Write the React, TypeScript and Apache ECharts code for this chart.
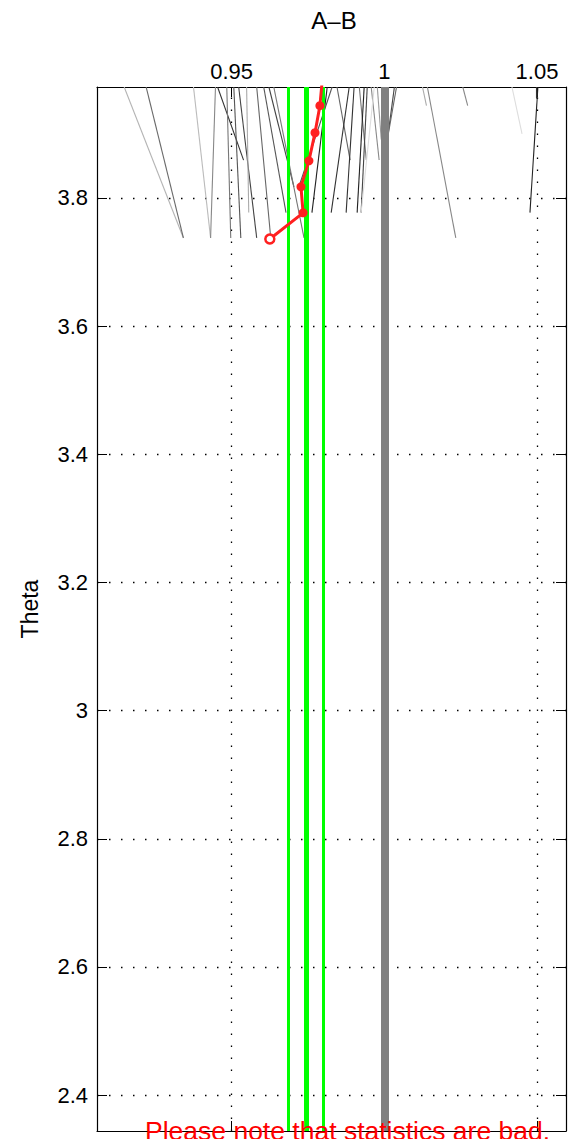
import React, { useEffect, useRef } from "react";
import * as echarts from "echarts";

const X_MIN = 0.9059;
const X_MAX = 1.0595;
const Y_MIN = 2.344;
const Y_MAX = 3.973;

const xTicks = [0.95, 1, 1.05];
const yTicks = [2.4, 2.6, 2.8, 3.0, 3.2, 3.4, 3.6, 3.8];
const yTickLabels = ["2.4", "2.6", "2.8", "3", "3.2", "3.4", "3.6", "3.8"];

// thin trace lines: [x at top, x at lower end, y at lower end, grey shade]
const traceTopX = [0.9148, 0.922, 0.9375, 0.9447, 0.9454, 0.9484, 0.9507, 0.9523, 0.9549, 0.9582, 0.9605, 0.9622, 0.9638, 0.9813, 0.9829, 0.9845, 0.9885, 0.9901, 0.9918, 0.9934, 0.9944, 0.9957, 0.9967, 0.9977, 1.0033, 1.004, 1.0125, 1.0141, 1.0257, 1.0418, 1.0503, 1.0497];
const traceEndX = [0.9342, 0.9342, 0.9431, 0.9431, 0.9539, 0.9497, 0.953, 0.9582, 0.9556, 0.9628, 0.9678, 0.9704, 0.9737, 0.9763, 0.9720, 0.9888, 0.9826, 0.9875, 0.9941, 0.9911, 0.9924, 0.9983, 0.9924, 0.9990, 1.001, 1.0013, 1.0138, 1.0234, 1.0273, 1.0451, 1.0477, 1.0497];
const traceEndY = [3.7375, 3.7375, 3.7375, 3.7375, 3.859, 3.7375, 3.7375, 3.7375, 3.777, 3.7375, 3.777, 3.817, 3.7375, 3.777, 3.817, 3.859, 3.777, 3.777, 3.859, 3.777, 3.777, 3.859, 3.777, 3.891, 3.891, 3.9, 3.944, 3.7375, 3.944, 3.9, 3.777, 3.955];
const traceShade = ["#b4b4b4", "#6a6a6a", "#bbbbbb", "#888888", "#333333", "#777777", "#555555", "#444444", "#aaaaaa", "#666666", "#555555", "#444444", "#777777", "#222222", "#555555", "#666666", "#333333", "#333333", "#777777", "#222222", "#444444", "#888888", "#dddddd", "#999999", "#444444", "#666666", "#aaaaaa", "#888888", "#888888", "#dddddd", "#222222", "#333333"];

const greenX = [0.9684, 0.9743, 0.9799];
const refX = [1.0];

const redX = [0.9625, 0.9734, 0.9727, 0.9753, 0.9773, 0.9789, 0.9797];
const redY = [3.7359, 3.7766, 3.8172, 3.8578, 3.9016, 3.9438, 3.985];

const FONT = "'Liberation Sans', Arial, Helvetica, sans-serif";

export default function App() {
  const ref = useRef<HTMLDivElement>(null);
  useEffect(() => {
    if (!ref.current) return;
    const chart = echarts.init(ref.current, null, { renderer: "svg" });

    const traceData = traceTopX.map((xt, i) => ({
      coords: [
        [xt, Y_MAX],
        [traceEndX[i], traceEndY[i]],
      ],
      lineStyle: { color: traceShade[i], width: 1.1, opacity: 1 },
    }));

    const greenWidths = [3, 5, 3];
    const greenData = greenX.map((x, i) => ({
      coords: [
        [x, Y_MIN],
        [x, Y_MAX],
      ],
      lineStyle: { color: "#00ff00", width: greenWidths[i], opacity: 1 },
    }));

    const refData = refX.map((x) => ({
      coords: [
        [x, Y_MIN],
        [x, Y_MAX],
      ],
      lineStyle: { color: "#808080", width: 8, opacity: 1 },
    }));

    const redData = redX.map((x, i) => {
      const item: any = { value: [x, redY[i]] };
      if (i === 0) item.itemStyle = { color: "#ffffff", borderColor: "#ff2020", borderWidth: 2.5 };
      return item;
    });

    const gridMarks = [
      ...xTicks.map((v) => ({ xAxis: v })),
      ...yTicks.map((v) => ({ yAxis: v })),
    ];

    const commonAxisLine = { show: true, lineStyle: { color: "#000", width: 1.2 } };

    chart.setOption({
      animation: false,
      backgroundColor: "#ffffff",
      grid: { left: 97, right: 15, top: 87, bottom: 8, containLabel: false },
      xAxis: [
        {
          type: "value",
          position: "top",
          min: X_MIN,
          max: X_MAX,
          axisLine: commonAxisLine,
          axisTick: { show: true, inside: true, length: 10, customValues: xTicks, lineStyle: { color: "#000" } },
          axisLabel: {
            show: true,
            customValues: xTicks,
            formatter: (v: number) => (Math.abs(v - 1) < 1e-9 ? "1" : String(v)),
            fontFamily: FONT,
            fontSize: 22,
            color: "#000",
            margin: 5,
          },
          splitLine: { show: false },
        },
        {
          type: "value",
          position: "bottom",
          min: X_MIN,
          max: X_MAX,
          axisLine: commonAxisLine,
          axisTick: { show: true, inside: true, length: 10, customValues: xTicks, lineStyle: { color: "#000" } },
          axisLabel: { show: false },
          splitLine: { show: false },
        },
      ],
      yAxis: [
        {
          type: "value",
          position: "left",
          min: Y_MIN,
          max: Y_MAX,
          name: "Theta",
          nameLocation: "middle",
          nameGap: 56,
          nameRotate: 90,
          nameTextStyle: { fontFamily: FONT, fontSize: 23, color: "#000" },
          axisLine: commonAxisLine,
          axisTick: { show: true, inside: true, length: 10, customValues: yTicks, lineStyle: { color: "#000" } },
          axisLabel: {
            show: true,
            customValues: yTicks,
            formatter: (v: number) => {
              const idx = yTicks.findIndex((t) => Math.abs(t - v) < 1e-6);
              return idx >= 0 ? yTickLabels[idx] : "";
            },
            fontFamily: FONT,
            fontSize: 22,
            color: "#000",
            margin: 9,
          },
          splitLine: { show: false },
        },
        {
          type: "value",
          position: "right",
          min: Y_MIN,
          max: Y_MAX,
          axisLine: commonAxisLine,
          axisTick: { show: true, inside: true, length: 10, customValues: yTicks, lineStyle: { color: "#000" } },
          axisLabel: { show: false },
          splitLine: { show: false },
        },
      ],
      graphic: [
        {
          type: "text",
          x: 334,
          y: 20,
          style: {
            text: "A\u2013B",
            fontFamily: FONT,
            fontSize: 24,
            fill: "#000",
            textAlign: "center",
            textVerticalAlign: "middle",
          },
          z: 100,
        },
        {
          type: "text",
          x: 145,
          y: 1131,
          style: {
            text: "Please note that statistics are bad.",
            fontFamily: FONT,
            fontSize: 26.5,
            fill: "#ff0000",
            textAlign: "left",
            textVerticalAlign: "middle",
          },
          z: 100,
        },
      ],
      series: [
        {
          type: "line",
          data: [],
          xAxisIndex: 0,
          yAxisIndex: 0,
          silent: true,
          markLine: {
            silent: true,
            z: 0,
            symbol: ["none", "none"],
            label: { show: false },
            lineStyle: { color: "#000", width: 1.3, type: [1.5, 10.5], opacity: 1 },
            data: gridMarks,
          },
          z: 0,
        },
        {
          type: "lines",
          coordinateSystem: "cartesian2d",
          xAxisIndex: 0,
          yAxisIndex: 0,
          polyline: false,
          silent: true,
          lineStyle: { opacity: 1 },
          data: traceData,
          z: 2,
        },
        {
          type: "lines",
          coordinateSystem: "cartesian2d",
          xAxisIndex: 0,
          yAxisIndex: 0,
          silent: true,
          lineStyle: { opacity: 1 },
          data: refData,
          z: 3,
        },
        {
          type: "lines",
          coordinateSystem: "cartesian2d",
          xAxisIndex: 0,
          yAxisIndex: 0,
          silent: true,
          lineStyle: { opacity: 1 },
          data: greenData,
          z: 4,
        },
        {
          type: "line",
          xAxisIndex: 0,
          yAxisIndex: 0,
          data: redData,
          clip: true,
          symbol: "circle",
          symbolSize: 9,
          showAllSymbol: true,
          lineStyle: { color: "#ff2020", width: 3 },
          itemStyle: { color: "#ff2020" },
          z: 5,
        },
      ],
    });

    return () => chart.dispose();
  }, []);

  return (
    <div
      ref={ref}
      style={{ position: "fixed", left: 0, top: 0, width: 581, height: 1139, background: "#fff" }}
    />
  );
}
